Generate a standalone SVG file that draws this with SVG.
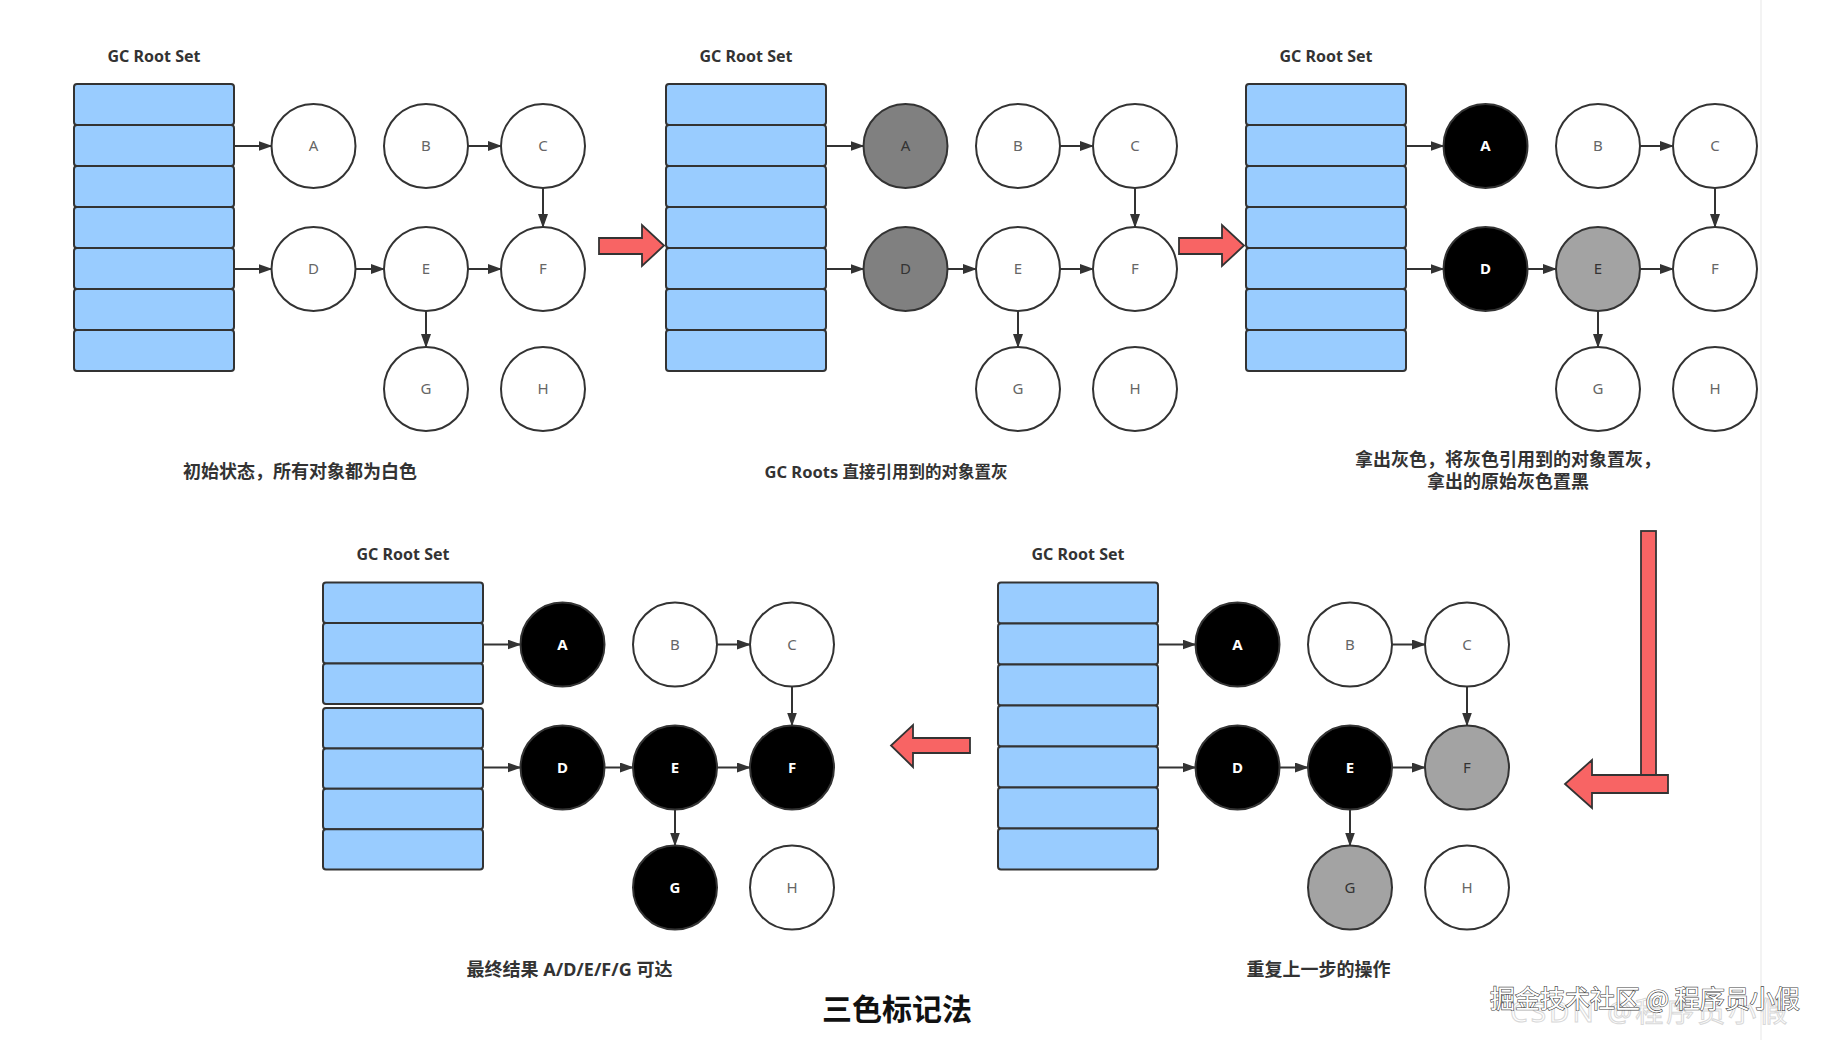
<svg xmlns="http://www.w3.org/2000/svg" width="1828" height="1040" viewBox="0 0 1828 1040">
<style>
.row{fill:#99CCFF;stroke:#333;stroke-width:2}
.n{stroke:#333;stroke-width:2}
.w{fill:#fff}.g1{fill:#808080}.g2{fill:#A3A3A3}.b{fill:#000}
.lbl{font-family:"Noto Sans","Open Sans",sans-serif;font-size:15px;text-anchor:middle}
.lw{fill:#666}.lg{fill:#333}.lb{fill:#fff;font-weight:bold}
.hdr{font-family:"Noto Sans","Open Sans",sans-serif;font-weight:bold;font-size:16px;fill:#333;text-anchor:middle}
.cap{font-family:"Noto Sans","Noto Sans CJK SC",sans-serif;font-weight:bold;font-size:18px;fill:#333;text-anchor:middle}
.edge{stroke:#333;stroke-width:2;fill:none;marker-end:url(#ah)}
.red{fill:#F86464;stroke:#333;stroke-width:1.8}
</style>
<defs>
<marker id="ah" markerUnits="userSpaceOnUse" markerWidth="14" markerHeight="10" refX="13" refY="5" orient="auto">
<path d="M0,0 L14,5 L0,10 Z" fill="#333"/>
</marker>
<g id="rows7">
<rect class="row" x="74" y="84" width="160" height="41" rx="3"/>
<rect class="row" x="74" y="125" width="160" height="41" rx="3"/>
<rect class="row" x="74" y="166" width="160" height="41" rx="3"/>
<rect class="row" x="74" y="207" width="160" height="41" rx="3"/>
<rect class="row" x="74" y="248" width="160" height="41" rx="3"/>
<rect class="row" x="74" y="289" width="160" height="41" rx="3"/>
<rect class="row" x="74" y="330" width="160" height="41" rx="3"/>
</g>
</defs>
<rect width="1828" height="1040" fill="#fff"/>
<line x1="1761" y1="0" x2="1761" y2="1040" stroke="#efefef" stroke-width="1.5"/>

<!-- Panel 1 -->
<g transform="translate(0,0)">
<g id="p1-roots"><text class="hdr" x="154" y="61.5">GC Root Set</text><use href="#rows7"/></g>
<g id="p1-A"><circle class="n w" cx="313.5" cy="146" r="42"/><text class="lbl lw" x="313.5" y="151">A</text></g>
<g id="p1-B"><circle class="n w" cx="426" cy="146" r="42"/><text class="lbl lw" x="426" y="151">B</text></g>
<g id="p1-C"><circle class="n w" cx="543" cy="146" r="42"/><text class="lbl lw" x="543" y="151">C</text></g>
<g id="p1-D"><circle class="n w" cx="313.5" cy="269" r="42"/><text class="lbl lw" x="313.5" y="274">D</text></g>
<g id="p1-E"><circle class="n w" cx="426" cy="269" r="42"/><text class="lbl lw" x="426" y="274">E</text></g>
<g id="p1-F"><circle class="n w" cx="543" cy="269" r="42"/><text class="lbl lw" x="543" y="274">F</text></g>
<g id="p1-G"><circle class="n w" cx="426" cy="389" r="42"/><text class="lbl lw" x="426" y="394">G</text></g>
<g id="p1-H"><circle class="n w" cx="543" cy="389" r="42"/><text class="lbl lw" x="543" y="394">H</text></g>
</g>

<!-- Panel 2 -->
<g transform="translate(592,0)">
<g id="p2-roots"><text class="hdr" x="154" y="61.5">GC Root Set</text><use href="#rows7"/></g>
<g id="p2-A"><circle class="n g1" cx="313.5" cy="146" r="42"/><text class="lbl lg" x="313.5" y="151">A</text></g>
<g id="p2-B"><circle class="n w" cx="426" cy="146" r="42"/><text class="lbl lw" x="426" y="151">B</text></g>
<g id="p2-C"><circle class="n w" cx="543" cy="146" r="42"/><text class="lbl lw" x="543" y="151">C</text></g>
<g id="p2-D"><circle class="n g1" cx="313.5" cy="269" r="42"/><text class="lbl lg" x="313.5" y="274">D</text></g>
<g id="p2-E"><circle class="n w" cx="426" cy="269" r="42"/><text class="lbl lw" x="426" y="274">E</text></g>
<g id="p2-F"><circle class="n w" cx="543" cy="269" r="42"/><text class="lbl lw" x="543" y="274">F</text></g>
<g id="p2-G"><circle class="n w" cx="426" cy="389" r="42"/><text class="lbl lw" x="426" y="394">G</text></g>
<g id="p2-H"><circle class="n w" cx="543" cy="389" r="42"/><text class="lbl lw" x="543" y="394">H</text></g>
</g>

<!-- Panel 3 -->
<g transform="translate(1172,0)">
<g id="p3-roots"><text class="hdr" x="154" y="61.5">GC Root Set</text><use href="#rows7"/></g>
<g id="p3-A"><circle class="n b" cx="313.5" cy="146" r="42"/><text class="lbl lb" x="313.5" y="151">A</text></g>
<g id="p3-B"><circle class="n w" cx="426" cy="146" r="42"/><text class="lbl lw" x="426" y="151">B</text></g>
<g id="p3-C"><circle class="n w" cx="543" cy="146" r="42"/><text class="lbl lw" x="543" y="151">C</text></g>
<g id="p3-D"><circle class="n b" cx="313.5" cy="269" r="42"/><text class="lbl lb" x="313.5" y="274">D</text></g>
<g id="p3-E"><circle class="n g2" cx="426" cy="269" r="42"/><text class="lbl lg" x="426" y="274">E</text></g>
<g id="p3-F"><circle class="n w" cx="543" cy="269" r="42"/><text class="lbl lw" x="543" y="274">F</text></g>
<g id="p3-G"><circle class="n w" cx="426" cy="389" r="42"/><text class="lbl lw" x="426" y="394">G</text></g>
<g id="p3-H"><circle class="n w" cx="543" cy="389" r="42"/><text class="lbl lw" x="543" y="394">H</text></g>
</g>

<!-- Panel 4 (bottom left) -->
<g transform="translate(249,498.5)">
<g id="p4-roots"><text class="hdr" x="154" y="61.5">GC Root Set</text>
<rect class="row" x="74" y="84" width="160" height="40.5" rx="3"/>
<rect class="row" x="74" y="124.5" width="160" height="40.5" rx="3"/>
<rect class="row" x="74" y="165" width="160" height="40.5" rx="3"/>
<rect class="row" x="74" y="209.5" width="160" height="40.4" rx="3"/>
<rect class="row" x="74" y="249.9" width="160" height="40.4" rx="3"/>
<rect class="row" x="74" y="290.3" width="160" height="40.4" rx="3"/>
<rect class="row" x="74" y="330.7" width="160" height="40.3" rx="3"/>
</g>
<g id="p4-A"><circle class="n b" cx="313.5" cy="146" r="42"/><text class="lbl lb" x="313.5" y="151">A</text></g>
<g id="p4-B"><circle class="n w" cx="426" cy="146" r="42"/><text class="lbl lw" x="426" y="151">B</text></g>
<g id="p4-C"><circle class="n w" cx="543" cy="146" r="42"/><text class="lbl lw" x="543" y="151">C</text></g>
<g id="p4-D"><circle class="n b" cx="313.5" cy="269" r="42"/><text class="lbl lb" x="313.5" y="274">D</text></g>
<g id="p4-E"><circle class="n b" cx="426" cy="269" r="42"/><text class="lbl lb" x="426" y="274">E</text></g>
<g id="p4-F"><circle class="n b" cx="543" cy="269" r="42"/><text class="lbl lb" x="543" y="274">F</text></g>
<g id="p4-G"><circle class="n b" cx="426" cy="389" r="42"/><text class="lbl lb" x="426" y="394">G</text></g>
<g id="p4-H"><circle class="n w" cx="543" cy="389" r="42"/><text class="lbl lw" x="543" y="394">H</text></g>
</g>

<!-- Panel 5 (bottom right) -->
<g transform="translate(924,498.5)">
<g id="p5-roots"><text class="hdr" x="154" y="61.5">GC Root Set</text><use href="#rows7"/></g>
<g id="p5-A"><circle class="n b" cx="313.5" cy="146" r="42"/><text class="lbl lb" x="313.5" y="151">A</text></g>
<g id="p5-B"><circle class="n w" cx="426" cy="146" r="42"/><text class="lbl lw" x="426" y="151">B</text></g>
<g id="p5-C"><circle class="n w" cx="543" cy="146" r="42"/><text class="lbl lw" x="543" y="151">C</text></g>
<g id="p5-D"><circle class="n b" cx="313.5" cy="269" r="42"/><text class="lbl lb" x="313.5" y="274">D</text></g>
<g id="p5-E"><circle class="n b" cx="426" cy="269" r="42"/><text class="lbl lb" x="426" y="274">E</text></g>
<g id="p5-F"><circle class="n g2" cx="543" cy="269" r="42"/><text class="lbl lg" x="543" y="274">F</text></g>
<g id="p5-G"><circle class="n g2" cx="426" cy="389" r="42"/><text class="lbl lg" x="426" y="394">G</text></g>
<g id="p5-H"><circle class="n w" cx="543" cy="389" r="42"/><text class="lbl lw" x="543" y="394">H</text></g>
</g>

<!-- Connectors -->
<g id="connectors">
<g transform="translate(0,0)">
<path class="edge" d="M234,146 H271.5"/><path class="edge" d="M234,269 H271.5"/>
<path class="edge" d="M468,146 H501"/><path class="edge" d="M543,188 V227"/>
<path class="edge" d="M355.5,269 H384"/><path class="edge" d="M468,269 H501"/>
<path class="edge" d="M426,311 V347"/>
</g>
<g transform="translate(592,0)">
<path class="edge" d="M234,146 H271.5"/><path class="edge" d="M234,269 H271.5"/>
<path class="edge" d="M468,146 H501"/><path class="edge" d="M543,188 V227"/>
<path class="edge" d="M355.5,269 H384"/><path class="edge" d="M468,269 H501"/>
<path class="edge" d="M426,311 V347"/>
</g>
<g transform="translate(1172,0)">
<path class="edge" d="M234,146 H271.5"/><path class="edge" d="M234,269 H271.5"/>
<path class="edge" d="M468,146 H501"/><path class="edge" d="M543,188 V227"/>
<path class="edge" d="M355.5,269 H384"/><path class="edge" d="M468,269 H501"/>
<path class="edge" d="M426,311 V347"/>
</g>
<g transform="translate(249,498.5)">
<path class="edge" d="M234,146 H271.5"/><path class="edge" d="M234,269 H271.5"/>
<path class="edge" d="M468,146 H501"/><path class="edge" d="M543,188 V227"/>
<path class="edge" d="M355.5,269 H384"/><path class="edge" d="M468,269 H501"/>
<path class="edge" d="M426,311 V347"/>
</g>
<g transform="translate(924,498.5)">
<path class="edge" d="M234,146 H271.5"/><path class="edge" d="M234,269 H271.5"/>
<path class="edge" d="M468,146 H501"/><path class="edge" d="M543,188 V227"/>
<path class="edge" d="M355.5,269 H384"/><path class="edge" d="M468,269 H501"/>
<path class="edge" d="M426,311 V347"/>
</g>
<!-- red step arrows -->
<polygon class="red" points="599,238 642,238 642,225 664,245.5 642,266 642,254 599,254"/>
<polygon class="red" points="1179,238 1222,238 1222,225 1244,245.5 1222,266 1222,254 1179,254"/>
<rect class="red" x="1641" y="531" width="15" height="246"/>
<polygon class="red" points="1668,775 1592,775 1592,760 1565,784 1592,808 1592,793 1668,793"/>
<polygon class="red" points="970,738 913,738 913,725 891,745.5 913,767 913,753 970,753"/>
</g>

<!-- Captions -->
<text class="cap" x="300" y="478">初始状态，所有对象都为白色</text>
<text class="cap" x="886" y="478" style="font-size:16.5px">GC Roots 直接引用到的对象置灰</text>
<text class="cap" x="1508" y="466">拿出灰色，将灰色引用到的对象置灰，</text>
<text class="cap" x="1508" y="488">拿出的原始灰色置黑</text>
<text class="cap" x="569.5" y="976">最终结果 A/D/E/F/G 可达</text>
<text class="cap" x="1318.5" y="976">重复上一步的操作</text>

<text x="897" y="1020" font-family="Noto Sans CJK SC, sans-serif" font-weight="bold" font-size="30" fill="#111" text-anchor="middle">三色标记法</text>

<!-- watermarks -->
<text x="1510" y="1022" font-family="Noto Sans, Noto Sans CJK SC, sans-serif" font-size="28" letter-spacing="3" fill="none" stroke="#d8d8d8" stroke-width="1">CSDN @程序员小假</text>
<text x="1490" y="1008" font-family="Noto Sans CJK SC, sans-serif" font-size="25" fill="#fff" stroke="#444" stroke-width="1.2" paint-order="stroke">掘金技术社区 @ 程序员小假</text>
</svg>
